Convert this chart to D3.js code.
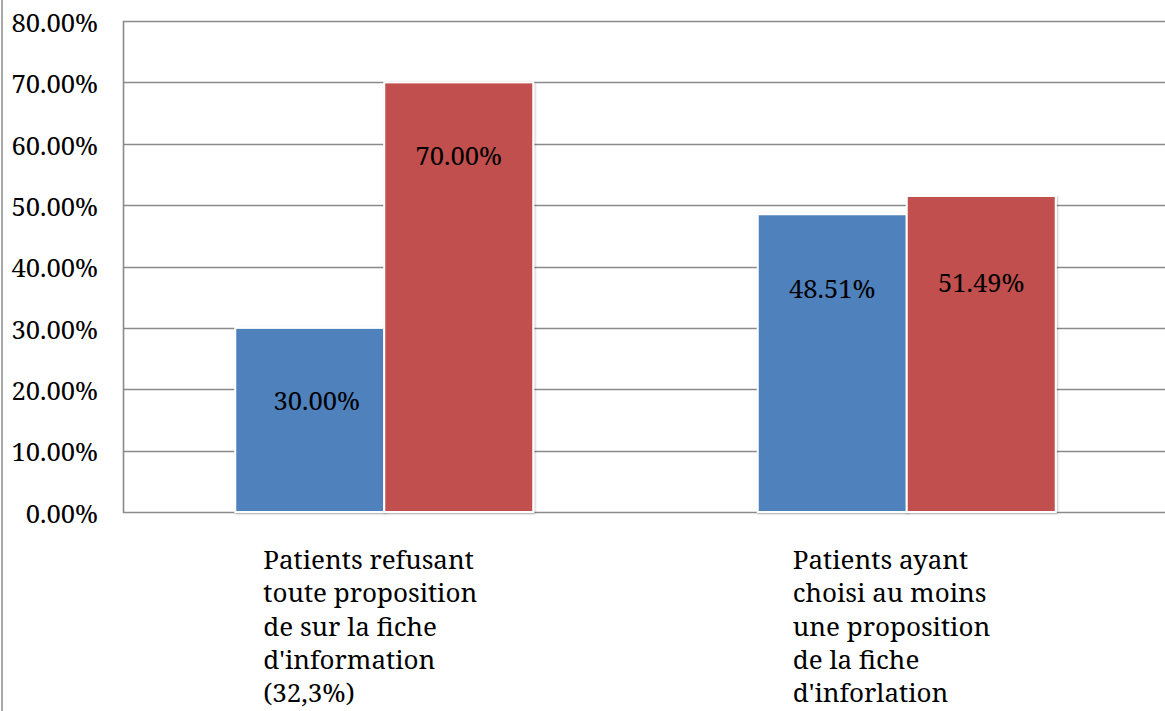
<!DOCTYPE html>
<html>
<head>
<meta charset="utf-8">
<script src="https://cdn.jsdelivr.net/npm/d3@7"></script>
<style>
  html, body { margin: 0; padding: 0; background: #fff; }
  svg { display: block; }
</style>
</head>
<body>
<svg id="chart" width="1165" height="711"></svg>
<script>
// ---- data ----
const categories = [
  ["Patients refusant", "toute proposition", "de sur la fiche", "d'information", "(32,3%)"],
  ["Patients ayant", "choisi au moins", "une proposition", "de la fiche", "d'inforlation"]
];
const seriesNames = ["Série 1", "Série 2"];
const series1 = [30.00, 48.51];
const series2 = [70.00, 51.49];
const yTicks = [0, 10, 20, 30, 40, 50, 60, 70, 80];

// ---- layout ----
const W = 1165, H = 711;
const plot = { left: 123, right: 1168, top: 21, bottom: 512 };
const colors = ["#4F81BD", "#C0504D"];
const labelOffsets = [[[7, 82], [0, 83]], [[0, 84], [0, 96]]]; // [dx, baseline below bar top]
const catTextOffset = [-121, -114];
const FONT = "'Noto Serif', 'DejaVu Serif', serif";

const svg = d3.select("#chart");

const defs = svg.append("defs");
const f = defs.append("filter").attr("id", "shadow").attr("x", "-10%").attr("y", "-10%").attr("width", "120%").attr("height", "120%");
f.append("feDropShadow").attr("dx", 1).attr("dy", 1).attr("stdDeviation", 1.2).attr("flood-color", "#000").attr("flood-opacity", 0.25);

const y = d3.scaleLinear().domain([0, 80]).range([plot.bottom, plot.top]);
const x0 = d3.scaleBand().domain(d3.range(categories.length)).range([plot.left, plot.right]).padding(0);
const innerW = 298;
const x1 = d3.scaleBand().domain(d3.range(2)).range([0, innerW]).padding(0);

// outer left border
svg.append("line").attr("x1", 2).attr("x2", 2).attr("y1", 0).attr("y2", H)
  .attr("stroke", "#8c8c8c").attr("stroke-width", 1.5);

// gridlines
svg.append("g").selectAll("line").data(yTicks).join("line")
  .attr("x1", plot.left).attr("x2", W)
  .attr("y1", d => Math.round(y(d)) + 0.5).attr("y2", d => Math.round(y(d)) + 0.5)
  .attr("stroke", "#8a8a8a").attr("stroke-width", 1.6);

// y axis line
svg.append("line").attr("x1", plot.left + 0.5).attr("x2", plot.left + 0.5)
  .attr("y1", y(80)).attr("y2", y(0) + 1)
  .attr("stroke", "#8a8a8a").attr("stroke-width", 1.6);

// y tick labels
const yAxis = d3.axisLeft(y).tickValues(yTicks).tickSize(0).tickPadding(25)
  .tickFormat(d => d.toFixed(2) + "%");
const ga = svg.append("g").attr("transform", `translate(${plot.left},0)`).call(yAxis);
ga.attr("font-family", null).attr("font-size", null);
ga.select(".domain").remove();
ga.selectAll("text")
  .attr("font-family", FONT)
  .attr("font-size", 25.6).attr("fill", "#000")
  .attr("dy", "0.4em");

// bars
const data = categories.map((c, i) => ({ i, vals: [series1[i], series2[i]] }));
const groups = svg.append("g").selectAll("g").data(data).join("g")
  .attr("transform", d => `translate(${x0(d.i) + (x0.bandwidth() - innerW) / 2},0)`);

groups.selectAll("rect").data(d => d.vals.map((v, s) => ({ v, s }))).join("rect")
  .attr("x", d => x1(d.s))
  .attr("y", d => y(d.v))
  .attr("width", x1.bandwidth())
  .attr("height", d => y(0) - y(d.v))
  .attr("fill", d => colors[d.s])
  .attr("stroke", "#fff").attr("stroke-width", 2)
  .attr("filter", "url(#shadow)");

// data labels
groups.selectAll("text.val").data(d => d.vals.map((v, s) => ({ v, s, i: d.i }))).join("text")
  .attr("class", "val")
  .attr("x", d => x1(d.s) + x1.bandwidth() / 2 + labelOffsets[d.i][d.s][0])
  .attr("y", d => y(d.v) + labelOffsets[d.i][d.s][1])
  .attr("text-anchor", "middle")
  .attr("font-family", FONT)
  .attr("font-size", 25.6).attr("fill", "#000")
  .text(d => d.v.toFixed(2) + "%");

// category labels
const baseY = 569, lineH = 33.3;
svg.append("g").selectAll("text").data(categories).join("text")
  .attr("font-family", FONT)
  .attr("font-size", 26).attr("fill", "#000")
  .each(function (lines, i) {
    const t = d3.select(this);
    const cx = x0(i) + x0.bandwidth() / 2 + catTextOffset[i];
    lines.forEach((ln, k) => {
      t.append("tspan").attr("x", cx).attr("y", baseY + k * lineH).text(ln);
    });
  });
</script>
</body>
</html>
